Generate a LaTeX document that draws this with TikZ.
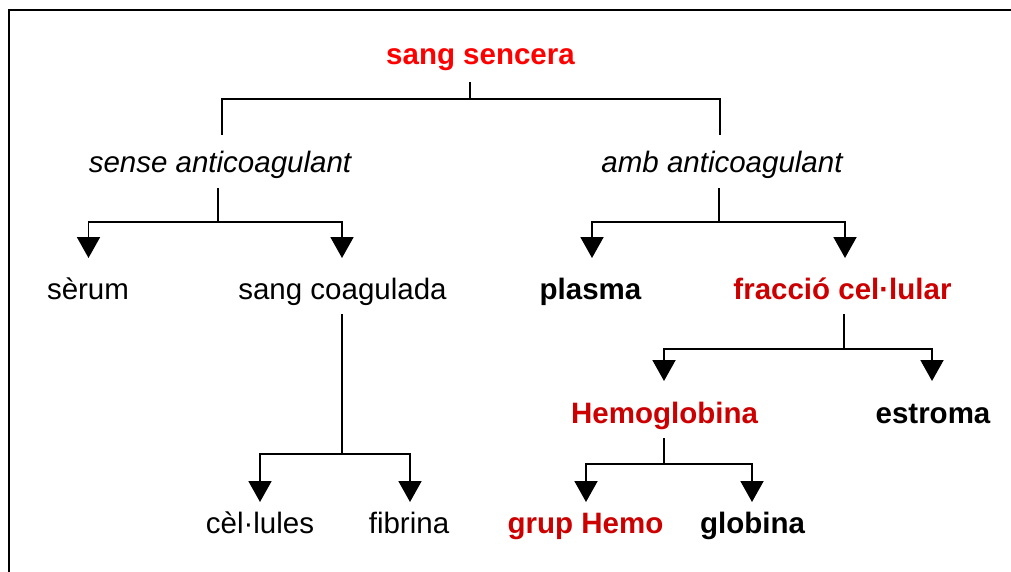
\documentclass[tikz,border=0pt]{standalone}
\usepackage{fontspec}
\setmainfont{Liberation Sans}
\usetikzlibrary{arrows.meta,calc}
\definecolor{brightred}{RGB}{255,0,0}
\definecolor{darkred}{RGB}{204,0,0}
\begin{document}
\begin{tikzpicture}[x=1pt,y=-1pt,
  lbl/.style={inner sep=0pt, anchor=base, font=\fontsize{29.5}{35}\selectfont},
  bf/.style={lbl, font=\fontsize{29.5}{35}\selectfont\bfseries},
  it/.style={lbl, font=\fontsize{29.5}{35}\selectfont\itshape},
  conn/.style={line width=1.9pt},
  arr/.style={conn, -{Triangle[width=23pt,length=21pt]}},
  frame/.style={line width=2.2pt}]
\useasboundingbox (0,0) rectangle (1011,572);
\draw[frame] (9,572) -- (9,10) -- (1011,10);

\node[bf, text=brightred] (ss) at (480.5,65) {sang sencera};
\node[it] (sa) at (220,172) {sense anticoagulant};
\node[it] (aa) at (722,172) {amb anticoagulant};
\node[lbl] (se) at (88,299) {sèrum};
\node[lbl] (sc) at (342.5,299) {sang coagulada};
\node[bf] (pl) at (590.5,299) {plasma};
\node[bf,text=darkred] (fc) at (842.5,299) {fracció cel·lular};
\node[bf,text=darkred] (hb) at (664.5,423) {Hemoglobina};
\node[bf] (es) at (933,423) {estroma};
\node[bf,text=darkred] (gh) at (585.5,533) {grup Hemo};
\node[bf] (gl) at (752.5,533) {globina};
\node[lbl] (ce) at (260,533) {cèl·lules};
\node[lbl] (fi) at (409,533) {fibrina};

\draw[conn] ($(ss.base)+(-10.5,17)$) -- ++(0,17) -| ($(sa.base)+(2,-37)$);
\draw[conn] ($(ss.base)+(-10.5,34)$) -| ($(aa.base)+(-2,-37)$);

\draw[arr] ($(sa.base)+(-2,16)$) -- ++(0,34) -| ($(se.base)+(0.5,-41)$);
\draw[arr] ($(sa.base)+(-2,50)$) -| ($(sc.base)+(-0.5,-41)$);

\draw[arr] ($(aa.base)+(-3,16)$) -- ++(0,34) -| ($(pl.base)+(1.5,-41)$);
\draw[arr] ($(aa.base)+(-3,50)$) -| ($(fc.base)+(2.5,-41)$);

\draw[arr] ($(sc.base)+(-0.5,15)$) -- ++(0,140) -| ($(ce.base)+(0,-31)$);
\draw[arr] ($(sc.base)+(-0.5,155)$) -| ($(fi.base)+(1,-31)$);

\draw[arr] ($(fc.base)+(1.5,15)$) -- ++(0,35) -| ($(hb.base)+(-0.5,-42)$);
\draw[arr] ($(fc.base)+(1.5,50)$) -| ($(es.base)+(-1,-42)$);

\draw[arr] ($(hb.base)+(-0.5,15)$) -- ++(0,26) -| ($(gh.base)+(0.5,-31)$);
\draw[arr] ($(hb.base)+(-0.5,41)$) -| ($(gl.base)+(-0.5,-31)$);
\end{tikzpicture}
\end{document}
